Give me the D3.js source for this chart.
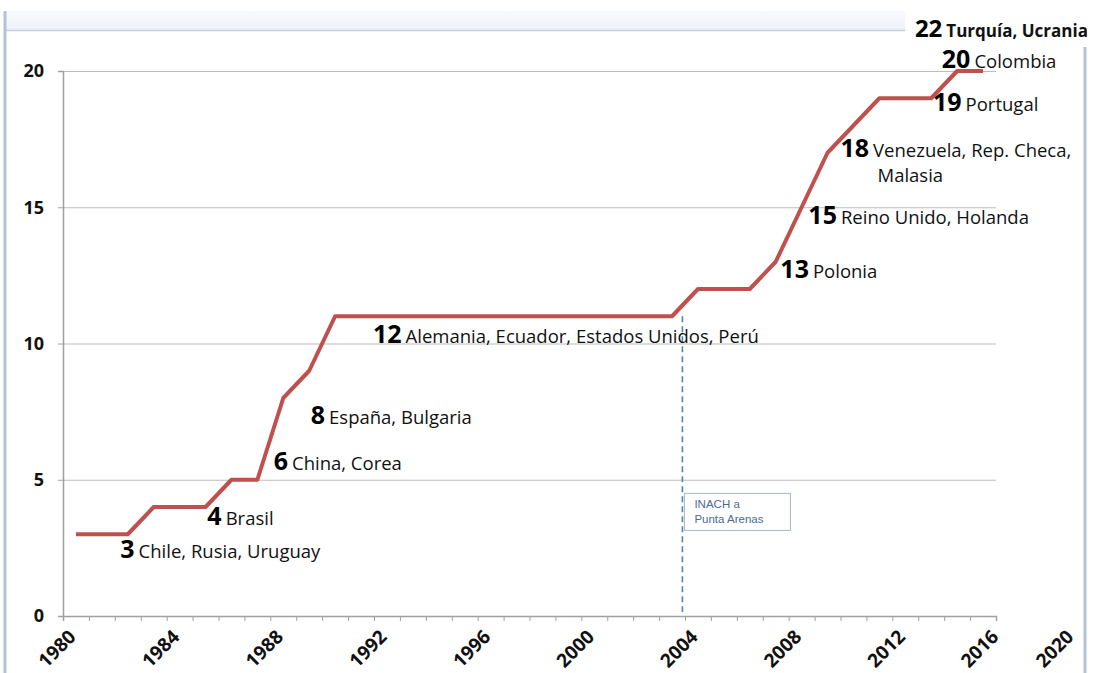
<!DOCTYPE html>
<html><head><meta charset="utf-8">
<script src="https://cdn.jsdelivr.net/npm/d3@7"></script>
<style>
body{margin:0;background:#fff;}
svg{display:block;font-family:"Open Sans",sans-serif;}
</style></head><body>
<svg id="c" width="1096" height="673"></svg>
<script>
// ---- data ----
const years = d3.range(1980, 2016);
const members = [3,3,3,4,4,4,5,5,8,9,11, 11,11,11,11,11,11,11,11,11,11,11,11,11, 12,12,12,13,15,17,18,19,19,19,20,20];
const yTicks = [0,5,10,15,20];
const xTickLabels = ["1980","1984","1988","1992","1996","2000","2004","2008","2012","2016","2020"];
const xLabelAt = [1980,1984,1988,1992,1996,2000,2004,2008,2012,2015.6,2018.5];
const annoCounts = ["3","4","6","8","12","13","15","18","19","20","22"];
const annoNames = [["Chile, Rusia, Uruguay"],["Brasil"],["China, Corea"],["España, Bulgaria"],["Alemania, Ecuador, Estados Unidos, Perú"],["Polonia"],["Reino Unido, Holanda"],["Venezuela, Rep. Checa,","Malasia"],["Portugal"],["Colombia"],["Turquía, Ucrania"]];
const annoYear = [1982.21,1985.57,1988.13,1989.56,1991.96,2007.68,2008.76,2010.0,2013.57,2013.91,2012.87];
const annoValue = [2.13,3.34,5.36,7.05,10.02,12.40,14.40,16.85,18.53,20.11,21.25];
const eventYear = 2003.9;
const eventText = ["INACH a","Punta Arenas"];

// ---- layout ----
const svg = d3.select("#c");
const x = d3.scaleLinear().domain([1980,2016]).range([63,996]);
const y = d3.scaleLinear().domain([0,20]).range([616,71]);

// window-like frame
const defs = svg.append("defs");
const g1 = defs.append("linearGradient").attr("id","band").attr("x1",0).attr("y1",0).attr("x2",0).attr("y2",1);
g1.append("stop").attr("offset","0%").attr("stop-color","#f8fafd");
g1.append("stop").attr("offset","100%").attr("stop-color","#edf1f7");
svg.append("rect").attr("x",5).attr("y",11).attr("width",900).attr("height",20).attr("fill","url(#band)");
svg.append("line").attr("x1",5).attr("x2",905).attr("y1",30.5).attr("y2",30.5).attr("stroke","#c3cddb").attr("stroke-width",1.5);
svg.append("line").attr("x1",5).attr("x2",5).attr("y1",11).attr("y2",673).attr("stroke","#b4c2d6").attr("stroke-width",3);
svg.append("line").attr("x1",1085).attr("x2",1085).attr("y1",47).attr("y2",673).attr("stroke","#b4c2d6").attr("stroke-width",3);

// gridlines
svg.append("g").selectAll("line").data(yTicks.filter(d=>d>0)).join("line")
  .attr("x1",x(1980)).attr("x2",x(2016))
  .attr("y1",d=>y(d)+0.5).attr("y2",d=>y(d)+0.5)
  .attr("stroke","#bcbcbc").attr("stroke-width",1.2);

// y axis
const yAxis = svg.append("g").attr("transform",`translate(${x(1980)},0)`)
  .call(d3.axisLeft(y).tickValues(yTicks).tickSize(5).tickPadding(14).tickFormat(d3.format("d")));
yAxis.select(".domain").attr("stroke","#a0a0a0").attr("stroke-width",1.5);
yAxis.selectAll(".tick line").attr("stroke","#a0a0a0");
yAxis.selectAll("text").attr("font-size",18).attr("font-weight",700).attr("fill","#111").attr("font-family","Open Sans");

// x axis (ticks each year)
const xAxis = svg.append("g").attr("transform",`translate(0,${y(0)})`)
  .call(d3.axisBottom(x).tickValues(d3.range(1980,2017)).tickSize(5).tickFormat(""));
xAxis.select(".domain").attr("stroke","#a0a0a0").attr("stroke-width",1.5);
xAxis.selectAll(".tick line").attr("stroke","#a0a0a0");

svg.append("g").selectAll("text").data(xTickLabels).join("text")
  .attr("transform",(d,i)=>`translate(${x(xLabelAt[i])+14},${y(0)+22}) rotate(-45)`)
  .attr("text-anchor","end")
  .attr("font-size",19).attr("font-weight",700).attr("fill","#111")
  .text(d=>d);

// event dashed line
svg.append("line")
  .attr("x1",x(eventYear)).attr("x2",x(eventYear))
  .attr("y1",y(11)).attr("y2",y(0)-4)
  .attr("stroke","#4f81bd").attr("stroke-width",1.6).attr("stroke-dasharray","6,4");
const bx = x(eventYear)+2, by = y(4.5);
svg.append("rect").attr("x",bx).attr("y",by).attr("width",106).attr("height",37)
  .attr("fill","#fff").attr("stroke","#a9b6c8").attr("stroke-width",1);
svg.append("g").selectAll("text").data(eventText).join("text")
  .attr("x",bx+10).attr("y",(d,i)=>by+15+i*15)
  .attr("font-family","Liberation Sans, Arial, sans-serif")
  .attr("font-size",11.5).attr("fill","#4a6a98").text(d=>d);

// line
svg.append("path").datum(members)
  .attr("d", d3.line().x((d,i)=>x(years[i]+0.5)).y(d=>y(d)))
  .attr("fill","none").attr("stroke","#c0504d").attr("stroke-width",4)
  .attr("stroke-linejoin","round");

// annotations
const ag = svg.append("g");
annoCounts.forEach((c,i)=>{
  const ax = x(annoYear[i]), ay = y(annoValue[i]);
  const last = i===annoCounts.length-1;
  const t = ag.append("text").attr("x",ax).attr("y",ay).attr("fill","#111");
  t.append("tspan").attr("font-size",last?24:25).attr("font-weight",700).attr("fill","#000").text(c);
  t.append("tspan").attr("dx",4).attr("font-size",last?17:18.5).attr("font-weight",last?700:400).text(annoNames[i][0]);
  if(annoNames[i][1]){
    ag.append("text").attr("x",ax+37).attr("y",ay+25).attr("font-size",18.5).attr("fill","#111").text(annoNames[i][1]);
  }
});
</script></body></html>
